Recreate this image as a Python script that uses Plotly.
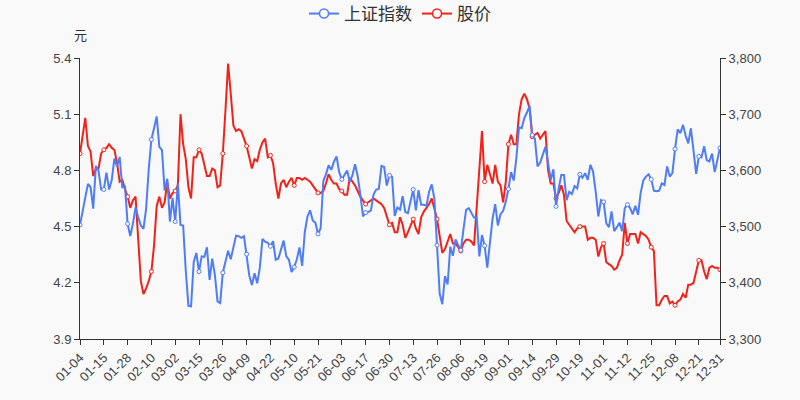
import pandas as pd
import plotly.graph_objects as go

# ---- trading calendar 2021 (categories) ----
holidays = ["2021-01-01", "2021-02-11", "2021-02-12", "2021-02-15", "2021-02-16",
            "2021-02-17", "2021-04-05", "2021-05-03", "2021-05-04", "2021-05-05",
            "2021-06-14", "2021-09-20", "2021-09-21", "2021-10-01", "2021-10-04",
            "2021-10-05", "2021-10-06", "2021-10-07"]
days = pd.bdate_range("2021-01-01", "2021-12-31")
dates = [d.strftime("%m-%d") for d in days if d.strftime("%Y-%m-%d") not in holidays]

# ---- series values ----
sse_index = [
    3503, 3529, 3551, 3576, 3570, 3532, 3608, 3599, 3566, 3566, 3596, 3566, 3583, 3621, 3607, 3624, 3569, 3573, 3505, 3483,
    3505, 3534, 3517, 3502, 3496, 3532, 3603, 3655, 3675, 3696, 3642, 3636, 3564, 3585, 3509,
    3551, 3509, 3577, 3503, 3502, 3421, 3359, 3358, 3437, 3453, 3420, 3447, 3446, 3463, 3405, 3443, 3414, 3367, 3364, 3418, 3435, 3457, 3442,
    3466, 3484, 3483, 3480, 3483, 3451, 3413, 3396, 3417, 3399, 3427, 3478, 3473, 3471, 3465, 3474, 3441, 3443, 3457, 3475, 3447,
    3441, 3419, 3428, 3442, 3463, 3430, 3490, 3518, 3529, 3511, 3507, 3487, 3497, 3581, 3593, 3609, 3601, 3615,
    3625, 3597, 3584, 3592, 3600, 3580, 3591, 3611, 3590, 3557, 3518, 3525, 3526, 3529, 3557, 3566, 3567, 3608, 3606, 3573, 3591,
    3589, 3519, 3534, 3530, 3554, 3526, 3524, 3548, 3566, 3529, 3565, 3539, 3539, 3537, 3562, 3575, 3550, 3467, 3381, 3362, 3412, 3397,
    3464, 3448, 3477, 3467, 3458, 3495, 3530, 3533, 3525, 3516, 3517, 3447, 3485, 3466, 3427, 3477, 3514, 3540, 3502, 3522, 3528, 3544,
    3567, 3597, 3582, 3622, 3677, 3675, 3693, 3703, 3715, 3663, 3656, 3607, 3614, 3628, 3642, 3613, 3583, 3602, 3536, 3568,
    3592, 3592, 3547, 3562, 3558, 3572, 3568, 3593, 3587, 3595, 3583, 3610, 3598, 3562, 3518, 3547,
    3544, 3506, 3499, 3527, 3492, 3499, 3507, 3492, 3533, 3539, 3533, 3522, 3537, 3521, 3560, 3582, 3589, 3593, 3584, 3564, 3563, 3564,
    3577, 3574, 3607, 3589, 3595, 3638, 3673, 3666, 3681, 3662, 3648, 3675, 3632, 3594, 3625, 3623, 3643, 3618, 3616, 3630, 3597, 3619, 3640,
]

stock_price = [
    4.89, 4.98, 5.08, 4.93, 4.90, 4.77, 4.81, 4.81, 4.89, 4.91, 4.92, 4.94, 4.92, 4.91, 4.84, 4.74, 4.75, 4.70, 4.66, 4.60,
    4.64, 4.66, 4.44, 4.21, 4.14, 4.17, 4.21, 4.26, 4.40, 4.61, 4.66, 4.60, 4.63, 4.74, 4.65,
    4.68, 4.69, 4.72, 5.10, 4.94, 4.86, 4.71, 4.65, 4.87, 4.87, 4.91, 4.89, 4.83, 4.77, 4.77, 4.81, 4.80, 4.71, 4.72, 4.89, 5.12, 5.37, 5.21,
    5.04, 5.01, 5.02, 5.01, 4.97, 4.93, 4.87, 4.81, 4.86, 4.85, 4.91, 4.95, 4.97, 4.87, 4.88, 4.84, 4.73, 4.65, 4.73, 4.75, 4.71,
    4.74, 4.76, 4.72, 4.76, 4.76, 4.75, 4.76, 4.75, 4.74, 4.72, 4.70, 4.68, 4.68, 4.69, 4.73, 4.78, 4.75, 4.73,
    4.73, 4.70, 4.69, 4.67, 4.67, 4.76, 4.74, 4.72, 4.69, 4.66, 4.64, 4.62, 4.63, 4.64, 4.65, 4.64, 4.63, 4.62, 4.60, 4.55, 4.51,
    4.52, 4.47, 4.47, 4.55, 4.51, 4.44, 4.47, 4.51, 4.54, 4.49, 4.46, 4.55, 4.58, 4.60, 4.62, 4.65, 4.60, 4.54, 4.45, 4.36, 4.38, 4.42,
    4.46, 4.41, 4.41, 4.39, 4.37, 4.41, 4.43, 4.43, 4.42, 4.40, 4.62, 4.82, 5.01, 4.74, 4.83, 4.78, 4.73, 4.83, 4.74, 4.72, 4.63, 4.74,
    4.94, 4.99, 4.94, 4.94, 5.10, 5.18, 5.21, 5.18, 5.13, 4.98, 4.99, 5.00, 4.97, 4.99, 5.01, 4.80, 4.73, 4.73, 4.65, 4.68,
    4.72, 4.67, 4.53, 4.51, 4.49, 4.47, 4.49, 4.50, 4.50, 4.50, 4.43, 4.44, 4.44, 4.43, 4.34, 4.39,
    4.41, 4.31, 4.30, 4.29, 4.27, 4.28, 4.32, 4.35, 4.52, 4.41, 4.46, 4.46, 4.46, 4.41, 4.47, 4.46, 4.45, 4.43, 4.39, 4.37, 4.08, 4.08,
    4.11, 4.13, 4.13, 4.09, 4.10, 4.08, 4.10, 4.11, 4.14, 4.12, 4.19, 4.19, 4.20, 4.26, 4.32, 4.32, 4.26, 4.22, 4.28, 4.29, 4.28, 4.28, 4.27,
]

label_step = 9
label_idx = list(range(0, len(dates), label_step))
if label_idx[-1] != len(dates) - 1:
    label_idx.append(len(dates) - 1)
tick_labels = [dates[i] for i in label_idx]

BLUE = "#4F7CF7"
RED = "#F2221B"
TXT = "#444444"
AX = "#333333"
FONT = "Liberation Sans, Arial, Noto Sans CJK SC, sans-serif"

fig = go.Figure()

fig.add_trace(go.Scatter(x=dates, y=sse_index, mode="lines", yaxis="y2",
                         line=dict(color=BLUE, width=2), showlegend=False, hoverinfo="skip"))
fig.add_trace(go.Scatter(x=[dates[i] for i in label_idx], y=[sse_index[i] for i in label_idx],
                         mode="markers", yaxis="y2", showlegend=False,
                         marker=dict(size=4, color="white", line=dict(color=BLUE, width=1))))
fig.add_trace(go.Scatter(x=dates, y=stock_price, mode="lines", yaxis="y",
                         line=dict(color=RED, width=2), showlegend=False, hoverinfo="skip"))
fig.add_trace(go.Scatter(x=[dates[i] for i in label_idx], y=[stock_price[i] for i in label_idx],
                         mode="markers", yaxis="y", showlegend=False,
                         marker=dict(size=4, color="white", line=dict(color=RED, width=1))))
# legend entries
fig.add_trace(go.Scatter(x=[None], y=[None], mode="lines+markers", name="上证指数",
                         line=dict(color=BLUE, width=2),
                         marker=dict(size=9, color="white", line=dict(color=BLUE, width=1.5))))
fig.add_trace(go.Scatter(x=[None], y=[None], mode="lines+markers", name="股价",
                         line=dict(color=RED, width=2),
                         marker=dict(size=9, color="white", line=dict(color=RED, width=1.5))))

fig.update_layout(
    width=800, height=400,
    margin=dict(l=80, r=80, t=58, b=61, autoexpand=False),
    paper_bgcolor="#F9F9F9", plot_bgcolor="#F9F9F9",
    font=dict(family=FONT, color=TXT, size=13),
    showlegend=True,
    legend=dict(orientation="h", x=0.5, xanchor="center", y=0.965, yanchor="middle",
                yref="container", font=dict(size=17, color="#333333",
                                            family="Noto Sans CJK SC, sans-serif"),
                itemwidth=30, bgcolor="rgba(0,0,0,0)", traceorder="normal"),
    xaxis=dict(type="category", categoryorder="array", categoryarray=dates,
               range=[0, len(dates) - 1], tickmode="array", tickvals=tick_labels,
               ticktext=tick_labels, tickangle=-45, showgrid=False, zeroline=False,
               showline=True, linecolor=AX, linewidth=1, ticks="outside",
               ticklen=5, tickcolor=AX, tickfont=dict(size=13, color=TXT)),
    yaxis=dict(range=[3.9, 5.4], tickmode="array",
               tickvals=[3.9, 4.2, 4.5, 4.8, 5.1, 5.4],
               ticktext=["3.9", "4.2", "4.5", "4.8", "5.1", "5.4"],
               showgrid=False, zeroline=False, showline=True, linecolor=AX,
               linewidth=1, ticks="outside", ticklen=5, tickcolor=AX,
               tickfont=dict(size=13, color=TXT)),
    yaxis2=dict(range=[3300, 3800], overlaying="y", side="right", dtick=100,
                tickformat=",", showgrid=False, zeroline=False, showline=True,
                linecolor=AX, linewidth=1, ticks="outside", ticklen=5, tickcolor=AX,
                tickfont=dict(size=13, color=TXT)),
    annotations=[dict(text="元", x=0, xref="paper", xanchor="center",
                      y=1.085, yref="paper", yanchor="middle", showarrow=False,
                      font=dict(size=13, color="#333333",
                                family="Noto Sans CJK SC, sans-serif"))],
)

fig.write_html("out.html")
